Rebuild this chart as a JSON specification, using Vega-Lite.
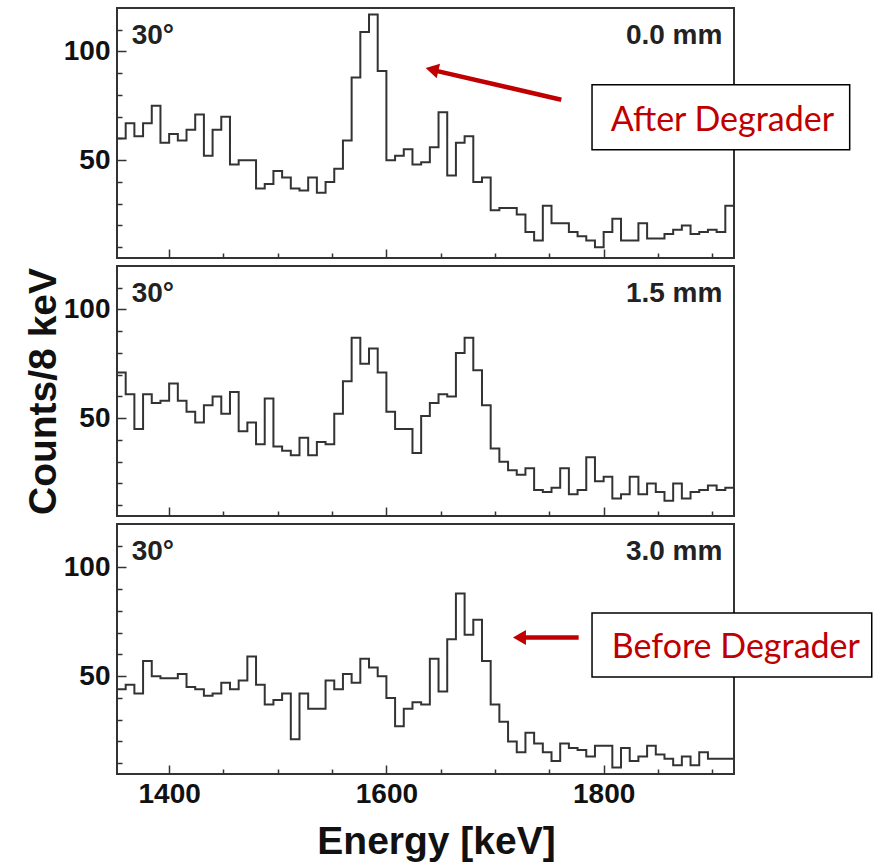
{
  "$schema": "https://vega.github.io/schema/vega-lite/v6.json",
  "background": "white",
  "padding": {"left": 23, "top": 7, "right": 4, "bottom": 4},
  "spacing": 8,
  "bounds": "flush",
  "config": {
    "view": {"stroke": "#333", "strokeWidth": 2},
    "axis": {
      "domain": false, "grid": false, "tickColor": "#333", "tickWidth": 1.5,
      "labelFont": "Liberation Sans", "labelFontWeight": "bold", "labelFontSize": 28, "labelColor": "#111",
      "labelOverlap": false, "labelFlush": false,
      "titleFont": "Liberation Sans", "titleFontWeight": "bold", "titleFontSize": 39, "titleColor": "#111"
    },
    "axisX": {"labelPadding": 15, "titlePadding": 10, "tickCount": 30,
              "tickSize": {"condition": {"test": "datum.value % 200 === 0", "value": -9}, "value": -5}},
    "axisY": {"labelPadding": 16, "titlePadding": 0, "tickCount": 30,
              "tickSize": {"condition": {"test": "datum.value % 50 === 0", "value": -9}, "value": -5}}
  },
  "datasets": {
    "p0": [
      {"e":1352,"c":60},{"e":1360,"c":67},{"e":1368,"c":61},{"e":1376,"c":67},{"e":1384,"c":75},{"e":1392,"c":58},
      {"e":1400,"c":62},{"e":1408,"c":59},{"e":1416,"c":64},{"e":1424,"c":71},{"e":1432,"c":52},{"e":1440,"c":64},
      {"e":1448,"c":70},{"e":1456,"c":48},{"e":1464,"c":50},{"e":1472,"c":50},{"e":1480,"c":37},{"e":1488,"c":39},
      {"e":1496,"c":45},{"e":1504,"c":42},{"e":1512,"c":37},{"e":1520,"c":36},{"e":1528,"c":42},{"e":1536,"c":35},
      {"e":1544,"c":40},{"e":1552,"c":46},{"e":1560,"c":59},{"e":1568,"c":88},{"e":1576,"c":109},{"e":1584,"c":117},
      {"e":1592,"c":91},{"e":1600,"c":50},{"e":1608,"c":52},{"e":1616,"c":55},{"e":1624,"c":48},{"e":1632,"c":49},
      {"e":1640,"c":56},{"e":1648,"c":72},{"e":1656,"c":43},{"e":1664,"c":58},{"e":1672,"c":61},{"e":1680,"c":40},
      {"e":1688,"c":42},{"e":1696,"c":27},{"e":1704,"c":28},{"e":1712,"c":28},{"e":1720,"c":25},{"e":1728,"c":17},
      {"e":1736,"c":13},{"e":1744,"c":29},{"e":1752,"c":21},{"e":1760,"c":21},{"e":1768,"c":17},{"e":1776,"c":15},
      {"e":1784,"c":13},{"e":1792,"c":10},{"e":1800,"c":17},{"e":1808,"c":23},{"e":1816,"c":13},{"e":1824,"c":13},
      {"e":1832,"c":21},{"e":1840,"c":14},{"e":1848,"c":14},{"e":1856,"c":16},{"e":1864,"c":18},{"e":1872,"c":20},
      {"e":1880,"c":16},{"e":1888,"c":17},{"e":1896,"c":18},{"e":1904,"c":17},{"e":1912,"c":29},{"e":1920,"c":29}
    ],
    "p1": [
      {"e":1352,"c":71},{"e":1360,"c":61},{"e":1368,"c":45},{"e":1376,"c":61},{"e":1384,"c":57},{"e":1392,"c":58},
      {"e":1400,"c":66},{"e":1408,"c":58},{"e":1416,"c":53},{"e":1424,"c":48},{"e":1432,"c":56},{"e":1440,"c":60},
      {"e":1448,"c":52},{"e":1456,"c":62},{"e":1464,"c":44},{"e":1472,"c":48},{"e":1480,"c":38},{"e":1488,"c":59},
      {"e":1496,"c":37},{"e":1504,"c":35},{"e":1512,"c":33},{"e":1520,"c":41},{"e":1528,"c":33},{"e":1536,"c":39},
      {"e":1544,"c":38},{"e":1552,"c":52},{"e":1560,"c":67},{"e":1568,"c":87},{"e":1576,"c":75},{"e":1584,"c":82},
      {"e":1592,"c":71},{"e":1600,"c":53},{"e":1608,"c":45},{"e":1616,"c":45},{"e":1624,"c":34},{"e":1632,"c":51},
      {"e":1640,"c":57},{"e":1648,"c":61},{"e":1656,"c":60},{"e":1664,"c":80},{"e":1672,"c":87},{"e":1680,"c":72},
      {"e":1688,"c":56},{"e":1696,"c":36},{"e":1704,"c":30},{"e":1712,"c":26},{"e":1720,"c":24},{"e":1728,"c":27},
      {"e":1736,"c":17},{"e":1744,"c":16},{"e":1752,"c":18},{"e":1760,"c":27},{"e":1768,"c":15},{"e":1776,"c":17},
      {"e":1784,"c":32},{"e":1792,"c":21},{"e":1800,"c":23},{"e":1808,"c":13},{"e":1816,"c":15},{"e":1824,"c":23},
      {"e":1832,"c":15},{"e":1840,"c":20},{"e":1848,"c":16},{"e":1856,"c":12},{"e":1864,"c":20},{"e":1872,"c":13},
      {"e":1880,"c":16},{"e":1888,"c":17},{"e":1896,"c":19},{"e":1904,"c":17},{"e":1912,"c":18},{"e":1920,"c":18}
    ],
    "p2": [
      {"e":1352,"c":44},{"e":1360,"c":46},{"e":1368,"c":42},{"e":1376,"c":57},{"e":1384,"c":50},{"e":1392,"c":49},
      {"e":1400,"c":49},{"e":1408,"c":51},{"e":1416,"c":45},{"e":1424,"c":44},{"e":1432,"c":41},{"e":1440,"c":42},
      {"e":1448,"c":47},{"e":1456,"c":44},{"e":1464,"c":48},{"e":1472,"c":59},{"e":1480,"c":46},{"e":1488,"c":37},
      {"e":1496,"c":39},{"e":1504,"c":42},{"e":1512,"c":21},{"e":1520,"c":42},{"e":1528,"c":35},{"e":1536,"c":35},
      {"e":1544,"c":48},{"e":1552,"c":44},{"e":1560,"c":51},{"e":1568,"c":47},{"e":1576,"c":58},{"e":1584,"c":54},
      {"e":1592,"c":50},{"e":1600,"c":40},{"e":1608,"c":27},{"e":1616,"c":35},{"e":1624,"c":38},{"e":1632,"c":37},
      {"e":1640,"c":58},{"e":1648,"c":43},{"e":1656,"c":67},{"e":1664,"c":88},{"e":1672,"c":69},{"e":1680,"c":76},
      {"e":1688,"c":57},{"e":1696,"c":37},{"e":1704,"c":29},{"e":1712,"c":20},{"e":1720,"c":15},{"e":1728,"c":24},
      {"e":1736,"c":19},{"e":1744,"c":15},{"e":1752,"c":11},{"e":1760,"c":19},{"e":1768,"c":17},{"e":1776,"c":16},
      {"e":1784,"c":13},{"e":1792,"c":18},{"e":1800,"c":18},{"e":1808,"c":8},{"e":1816,"c":17},{"e":1824,"c":11},
      {"e":1832,"c":13},{"e":1840,"c":18},{"e":1848,"c":14},{"e":1856,"c":12},{"e":1864,"c":9},{"e":1872,"c":13},
      {"e":1880,"c":9},{"e":1888,"c":15},{"e":1896,"c":12},{"e":1904,"c":12},{"e":1912,"c":12},{"e":1920,"c":12}
    ]
  },
  "vconcat": [
    {
      "width": 617, "height": 250,
      "layer": [
        {
          "data": {"name": "p0"},
          "mark": {"type": "line", "interpolate": "step-after", "color": "#333", "strokeWidth": 2},
          "encoding": {
            "x": {"field": "e", "type": "quantitative", "scale": {"domain": [1352, 1920], "nice": false, "zero": false},
                  "axis": {"values": [1400,1450,1500,1550,1600,1650,1700,1750,1800,1850,1900], "tickCount": 30, "labels": false, "title": null}},
            "y": {"field": "c", "type": "quantitative", "scale": {"domain": [5, 120], "nice": false, "zero": false},
                  "axis": {"values": [10,20,30,40,50,60,70,80,90,100,110], "tickCount": 30, "labelOverlap": false,
                           "labelFontSize": {"condition": {"test": "datum.value % 50 === 0", "value": 28}, "value": 1},
                           "labelExpr": "datum.value % 50 === 0 ? datum.label : ' '", "title": null}}
          }
        },
        {
          "data": {"values": [{}]},
          "mark": {"type": "text", "align": "left", "baseline": "middle", "font": "Liberation Sans", "fontWeight": "bold", "fontSize": 28, "color": "#222"},
          "encoding": {"x": {"datum": 1365.5}, "y": {"datum": 107.3}, "text": {"value": "30°"}}
        },
        {
          "data": {"values": [{}]},
          "mark": {"type": "text", "align": "right", "baseline": "middle", "font": "Liberation Sans", "fontWeight": "bold", "fontSize": 28, "color": "#222"},
          "encoding": {"x": {"datum": 1909.3}, "y": {"datum": 107.3}, "text": {"value": "0.0 mm"}}
        },
        {
          "data": {"values": [{}]},
          "mark": {"type": "rule", "color": "#C00000", "strokeWidth": 4.5},
          "encoding": {"x": {"datum": 1761}, "x2": {"datum": 1645}, "y": {"datum": 77.8}, "y2": {"datum": 91.2}}
        },
        {
          "data": {"values": [{}]},
          "mark": {"type": "point", "shape": "triangle-left", "filled": true, "color": "#C00000", "opacity": 1, "size": 225, "angle": 13},
          "encoding": {"x": {"datum": 1642}, "y": {"datum": 91.7}}
        },
        {
          "data": {"values": [{}]},
          "mark": {"type": "rect", "fill": "white", "stroke": "black", "strokeWidth": 1.5},
          "encoding": {"x": {"datum": 1789.3}, "x2": {"datum": 2026.5}, "y": {"datum": 84.7}, "y2": {"datum": 54.8}}
        },
        {
          "data": {"values": [{}]},
          "mark": {"type": "text", "align": "left", "baseline": "alphabetic", "font": "Lato", "fontSize": 34, "color": "#C00000"},
          "encoding": {"x": {"datum": 1806.5}, "y": {"datum": 63.5}, "text": {"value": "After Degrader"}}
        }
      ]
    },
    {
      "width": 617, "height": 250,
      "layer": [
        {
          "data": {"name": "p1"},
          "mark": {"type": "line", "interpolate": "step-after", "color": "#333", "strokeWidth": 2},
          "encoding": {
            "x": {"field": "e", "type": "quantitative", "scale": {"domain": [1352, 1920], "nice": false, "zero": false},
                  "axis": {"values": [1400,1450,1500,1550,1600,1650,1700,1750,1800,1850,1900], "tickCount": 30, "labels": false, "title": null}},
            "y": {"field": "c", "type": "quantitative", "scale": {"domain": [5, 120], "nice": false, "zero": false},
                  "axis": {"values": [10,20,30,40,50,60,70,80,90,100,110], "tickCount": 30, "labelOverlap": false,
                           "labelFontSize": {"condition": {"test": "datum.value % 50 === 0", "value": 28}, "value": 1},
                           "labelExpr": "datum.value % 50 === 0 ? datum.label : ' '", "title": "Counts/8 keV"}}
          }
        },
        {
          "data": {"values": [{}]},
          "mark": {"type": "text", "align": "left", "baseline": "middle", "font": "Liberation Sans", "fontWeight": "bold", "fontSize": 28, "color": "#222"},
          "encoding": {"x": {"datum": 1365.5}, "y": {"datum": 107.3}, "text": {"value": "30°"}}
        },
        {
          "data": {"values": [{}]},
          "mark": {"type": "text", "align": "right", "baseline": "middle", "font": "Liberation Sans", "fontWeight": "bold", "fontSize": 28, "color": "#222"},
          "encoding": {"x": {"datum": 1909.3}, "y": {"datum": 107.3}, "text": {"value": "1.5 mm"}}
        }
      ]
    },
    {
      "width": 617, "height": 250,
      "layer": [
        {
          "data": {"name": "p2"},
          "mark": {"type": "line", "interpolate": "step-after", "color": "#333", "strokeWidth": 2},
          "encoding": {
            "x": {"field": "e", "type": "quantitative", "scale": {"domain": [1352, 1920], "nice": false, "zero": false},
                  "axis": {"values": [1400,1450,1500,1550,1600,1650,1700,1750,1800,1850,1900], "tickCount": 30, "format": "d", "labelOverlap": false, "labelExpr": "datum.value % 200 === 0 ? datum.label : ' '", "title": "Energy [keV]", "titleX": 319}},
            "y": {"field": "c", "type": "quantitative", "scale": {"domain": [5, 120], "nice": false, "zero": false},
                  "axis": {"values": [10,20,30,40,50,60,70,80,90,100,110], "tickCount": 30, "labelOverlap": false,
                           "labelFontSize": {"condition": {"test": "datum.value % 50 === 0", "value": 28}, "value": 1},
                           "labelExpr": "datum.value % 50 === 0 ? datum.label : ' '", "title": null}}
          }
        },
        {
          "data": {"values": [{}]},
          "mark": {"type": "text", "align": "left", "baseline": "middle", "font": "Liberation Sans", "fontWeight": "bold", "fontSize": 28, "color": "#222"},
          "encoding": {"x": {"datum": 1365.5}, "y": {"datum": 107.3}, "text": {"value": "30°"}}
        },
        {
          "data": {"values": [{}]},
          "mark": {"type": "text", "align": "right", "baseline": "middle", "font": "Liberation Sans", "fontWeight": "bold", "fontSize": 28, "color": "#222"},
          "encoding": {"x": {"datum": 1909.3}, "y": {"datum": 107.3}, "text": {"value": "3.0 mm"}}
        },
        {
          "data": {"values": [{}]},
          "mark": {"type": "rule", "color": "#C00000", "strokeWidth": 4.5},
          "encoding": {"x": {"datum": 1777}, "x2": {"datum": 1725}, "y": {"datum": 67.8}, "y2": {"datum": 67.8}}
        },
        {
          "data": {"values": [{}]},
          "mark": {"type": "point", "shape": "triangle-left", "filled": true, "color": "#C00000", "opacity": 1, "size": 225},
          "encoding": {"x": {"datum": 1722.5}, "y": {"datum": 67.8}}
        },
        {
          "data": {"values": [{}]},
          "mark": {"type": "rect", "fill": "white", "stroke": "black", "strokeWidth": 1.5},
          "encoding": {"x": {"datum": 1789.3}, "x2": {"datum": 2046.8}, "y": {"datum": 79.1}, "y2": {"datum": 49.6}}
        },
        {
          "data": {"values": [{}]},
          "mark": {"type": "text", "align": "left", "baseline": "alphabetic", "font": "Lato", "fontSize": 34, "color": "#C00000"},
          "encoding": {"x": {"datum": 1807.5}, "y": {"datum": 58.5}, "text": {"value": "Before Degrader"}}
        }
      ]
    }
  ]
}
